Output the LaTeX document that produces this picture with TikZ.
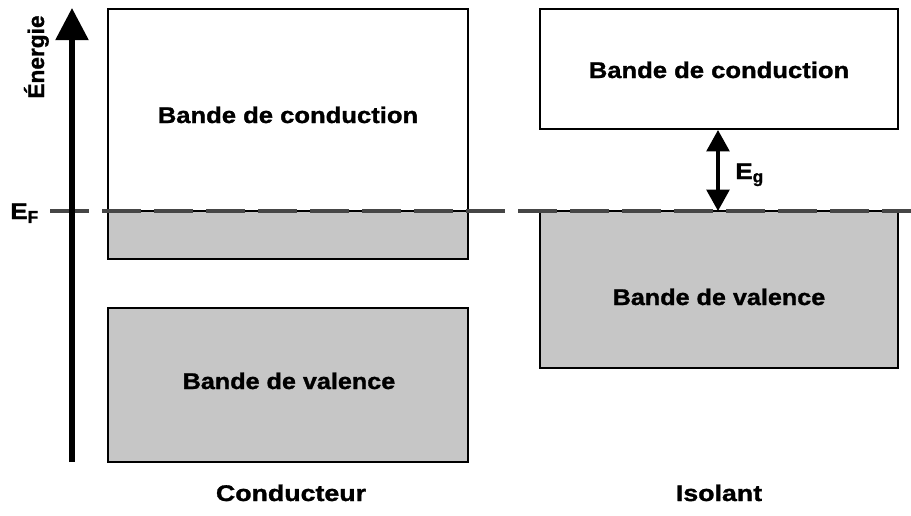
\documentclass[tikz,border=0pt]{standalone}
\usepackage{fontspec}
\setmainfont{Liberation Sans}[BoldFeatures={FakeBold=1.2}]
\usetikzlibrary{arrows.meta}
\definecolor{bandgray}{RGB}{198,198,198}
\definecolor{fermigray}{RGB}{70,70,70}
\newcommand\widetxt[2]{\scalebox{#1}[1]{#2}}
\tikzset{
  band/.style={draw=black, line width=1.2pt},
  filled/.style={band, fill=bandgray},
  lbl/.style={font=\fontsize{17}{20}\selectfont\bfseries, inner sep=0pt, anchor=base},
  fermi/.style={draw=fermigray, line width=3pt, dash pattern=on 29pt off 10pt},
}
\begin{document}
\begin{tikzpicture}[x=0.75pt,y=-0.75pt]
\useasboundingbox (0,0) rectangle (911,515);
% conductor
\path[filled] (108,211) rectangle (468,259);
\draw[band] (108,259) -- (108,9) -- (468,9) -- (468,259) -- cycle;
\node[lbl] (cb1) at (288,123) {\widetxt{1.13}{Bande de conduction}};
\path[filled] (108,308) rectangle (468,462);
\node[lbl] (vb1) at (289,389) {\widetxt{1.11}{Bande de valence}};
% insulator
\path[band, fill=white] (540,9) rectangle (898,129);
\node[lbl] (cb2) at (719,78) {\widetxt{1.13}{Bande de conduction}};
\path[filled] (540,211) rectangle (898,368);
\node[lbl] (vb2) at (719,305) {\widetxt{1.11}{Bande de valence}};
% Fermi level
\coordinate (fl) at (50,211);
\coordinate (fr) at (911,211);
\draw[fermi] (fl) -- (fr);
% energy axis
\coordinate (ab) at (72,462);
\coordinate (at) at (72,8);
\draw[line width=4pt, -{Triangle[width=24pt,length=24pt]}] (ab) -- (at);
\node[lbl, rotate=90] (en) at (44,57) {Énergie};
\node[lbl, anchor=base west] (ef) at (10,219) {\widetxt{1.15}{E}\textsubscript{\fontsize{13}{13}\selectfont F}};
% gap arrow
\coordinate (gt) at (718,130);
\coordinate (gb) at (718,211);
\draw[line width=2.6pt, {Triangle[width=17pt,length=16pt]}-{Triangle[width=17pt,length=16pt]}] (gt) -- (gb);
\node[lbl, anchor=base west] (eg) at (735,179) {\widetxt{1.15}{E}\textsubscript{\fontsize{13}{13}\selectfont g}};
% captions
\node[lbl] (c1) at (291,501) {\widetxt{1.18}{Conducteur}};
\node[lbl] (c2) at (719,501) {\widetxt{1.18}{Isolant}};
\end{tikzpicture}
\end{document}
